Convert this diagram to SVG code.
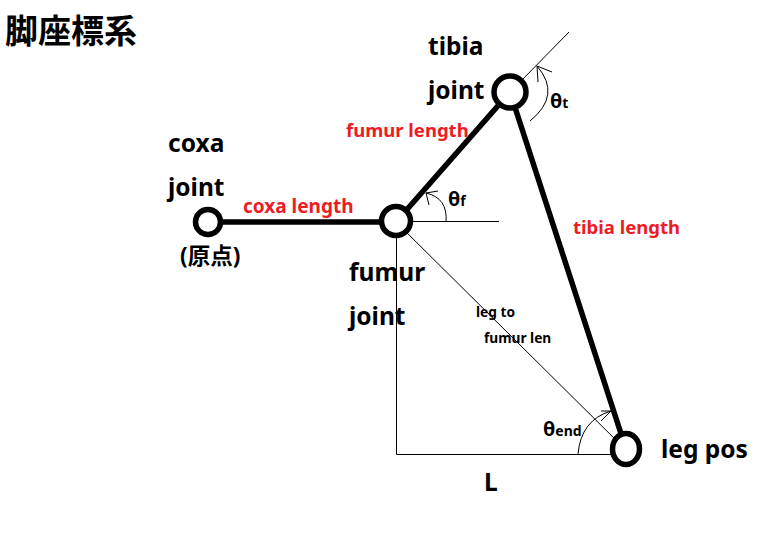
<svg xmlns="http://www.w3.org/2000/svg" width="782" height="538" viewBox="0 0 782 538">
<style>
text{font-family:"Noto Sans","Noto Sans CJK JP",sans-serif;font-weight:700;fill:#000}
.l{font-size:24.5px}
.r{font-size:18.500px;fill:#ed1c24}
.s{font-size:13.700px}
.t{font-size:20px}
.u{font-size:14px}
.thin{fill:none;stroke:#000;stroke-width:1}
.bar{fill:none;stroke:#000;stroke-width:5.500}
.n{fill:#fff;stroke:#000;stroke-width:5.500}
</style>
<rect width="782" height="538" fill="#fff"/>
<g id="connectors">
<path class="thin" d="M521 81L569 32M396.500 221.500L499 221.500M396.500 222L396.500 454.500L626 454.500M396 222L626 450"/>
<path class="thin" d="M530 121Q562 95 537 66M537 66L538 82M537 66L552 72"/>
<path class="thin" d="M446 222Q448 198 426 193M426 193L429 205M426 193L438 191"/>
<path class="thin" d="M578 454Q581 420 611 411M611 411L601 421M611 411L601 411"/>
<path class="bar" d="M209 222L396 222M396 222L510 92M510 92L626 449"/>
</g>
<g id="coxa-joint"><circle class="n" cx="208" cy="222" r="12.500"/><text class="l" x="168" y="152">coxa</text><text class="l" x="168" y="196">joint</text><text x="180" y="264" style="font-size:22.500px">(原点)</text></g>
<g id="fumur-joint"><circle class="n" cx="396" cy="221" r="14.500"/><text class="l" x="349" y="281">fumur</text><text class="l" x="349" y="325">joint</text></g>
<g id="tibia-joint"><circle class="n" cx="510" cy="92" r="16"/><text class="l" x="428" y="55">tibia</text><text class="l" x="428" y="99">joint</text></g>
<g id="leg-pos"><ellipse class="n" cx="626" cy="449" rx="13.500" ry="15.500"/><text class="l" x="661" y="458">leg pos</text></g>
<g id="labels">
<text x="5" y="43" style="font-size:33px">脚座標系</text>
<text class="r" x="346" y="137">fumur length</text>
<text class="r" x="243" y="213" style="font-size:19px">coxa length</text>
<text class="r" x="573" y="234">tibia length</text>
<text class="s" x="476" y="317">leg to</text>
<text class="s" x="484" y="343">fumur len</text>
<text class="t" x="550" y="108">θ<tspan class="u">t</tspan></text>
<text class="t" x="448" y="206">θ<tspan class="u">f</tspan></text>
<text class="t" x="543" y="436">θ<tspan class="u">end</tspan></text>
<text class="l" x="484" y="491">L</text>
</g>
</svg>
